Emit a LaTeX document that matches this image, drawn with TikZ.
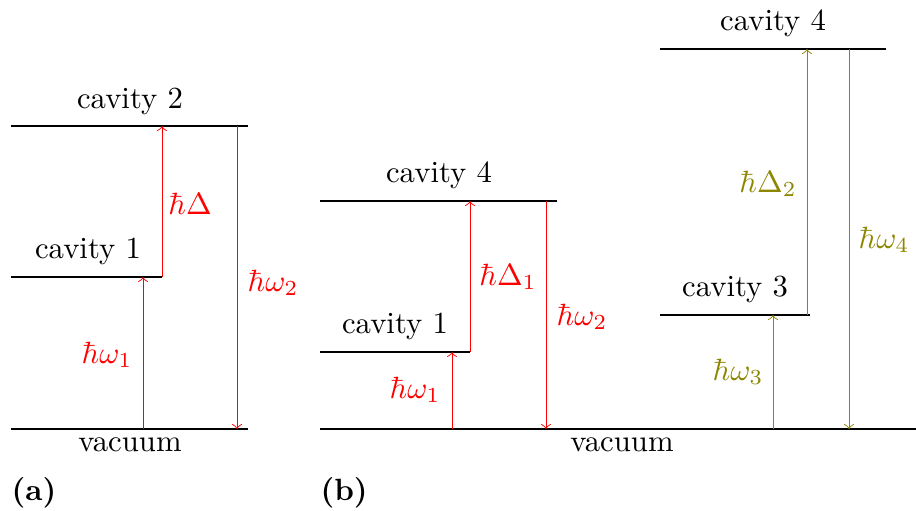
\documentclass[tikz,border=0pt]{standalone}
\usepackage{amsmath}
\begin{document}
\begin{tikzpicture}[x=0.3255pt,y=-0.3255pt,
  level/.style={line width=0.7pt,black},
  trans/.style={->,line width=0.3pt},
  lbl/.style={inner sep=0pt,font=\normalsize},
  tag/.style={inner sep=0pt,font=\bfseries,anchor=west}]
\useasboundingbox (0,0) rectangle (916,510);
% ---------- (a) ----------
\coordinate (a0L) at (11,429); \coordinate (a0R) at (248,429);
\coordinate (a1L) at (11,277); \coordinate (a1R) at (162,277);
\coordinate (a2L) at (11,126); \coordinate (a2R) at (248,126);
\draw[level] (a0L) -- (a0R);
\draw[level] (a1L) -- (a1R);
\draw[level] (a2L) -- (a2R);
\coordinate (aw1s) at (143,429); \coordinate (aw1e) at (143,277);
\coordinate (ads) at (162,277); \coordinate (ade) at (162,126);
\coordinate (aw2s) at (237,126); \coordinate (aw2e) at (237,429);
\draw[trans,red] (aw1s) -- (aw1e);
\draw[trans,red] (ads) -- (ade);
\draw[trans,red] (aw2s) -- (aw2e);
\node[lbl] (ta2) at (130,101) {cavity 2};
\node[lbl] (ta1) at (88,251) {cavity 1};
\node[lbl] (ta0) at (130,445) {vacuum};
\node[lbl,text=red] (laD) at (190,204) {$\hbar\Delta$};
\node[lbl,text=red] (law2) at (273,283) {$\hbar\omega_2$};
\node[lbl,text=red] (law1) at (107,355) {$\hbar\omega_1$};
\node[tag] (taga) at (11,493) {(a)};
% ---------- (b) ----------
\coordinate (b0L) at (320,429); \coordinate (b0R) at (916,429);
\coordinate (b1L) at (320,352); \coordinate (b1R) at (470,352);
\coordinate (b4L) at (320,201); \coordinate (b4R) at (557,201);
\coordinate (b3L) at (660,315); \coordinate (b3R) at (810,315);
\coordinate (c4L) at (660,49);  \coordinate (c4R) at (886,49);
\draw[level] (b0L) -- (b0R);
\draw[level] (b1L) -- (b1R);
\draw[level] (b4L) -- (b4R);
\draw[level] (b3L) -- (b3R);
\draw[level] (c4L) -- (c4R);
\coordinate (bw1s) at (452,429); \coordinate (bw1e) at (452,352);
\coordinate (bd1s) at (470,352); \coordinate (bd1e) at (470,201);
\coordinate (bw2s) at (546,201); \coordinate (bw2e) at (546,429);
\coordinate (bw3s) at (773,429); \coordinate (bw3e) at (773,315);
\coordinate (bd2s) at (807,315); \coordinate (bd2e) at (807,49);
\coordinate (bw4s) at (849,49);  \coordinate (bw4e) at (849,429);
\draw[trans,red] (bw1s) -- (bw1e);
\draw[trans,red] (bd1s) -- (bd1e);
\draw[trans,red] (bw2s) -- (bw2e);
\draw[trans,olive] (bw3s) -- (bw3e);
\draw[trans,olive] (bd2s) -- (bd2e);
\draw[trans,olive] (bw4s) -- (bw4e);
\node[lbl] (tb4) at (439,175) {cavity 4};
\node[lbl] (tb1) at (395,326) {cavity 1};
\node[lbl] (tb0) at (622,445) {vacuum};
\node[lbl] (tb3) at (735,289) {cavity 3};
\node[lbl] (tc4) at (773,23) {cavity 4};
\node[lbl,text=red] (lbw1) at (415,390) {$\hbar\omega_1$};
\node[lbl,text=red] (lbd1) at (508,277) {$\hbar\Delta_1$};
\node[lbl,text=red] (lbw2) at (582,317) {$\hbar\omega_2$};
\node[lbl,text=olive] (lbd2) at (768,184) {$\hbar\Delta_2$};
\node[lbl,text=olive] (lbw4) at (884,240) {$\hbar\omega_4$};
\node[lbl,text=olive] (lbw3) at (738,372) {$\hbar\omega_3$};
\node[tag] (tagb) at (320,493) {(b)};
\end{tikzpicture}
\end{document}
